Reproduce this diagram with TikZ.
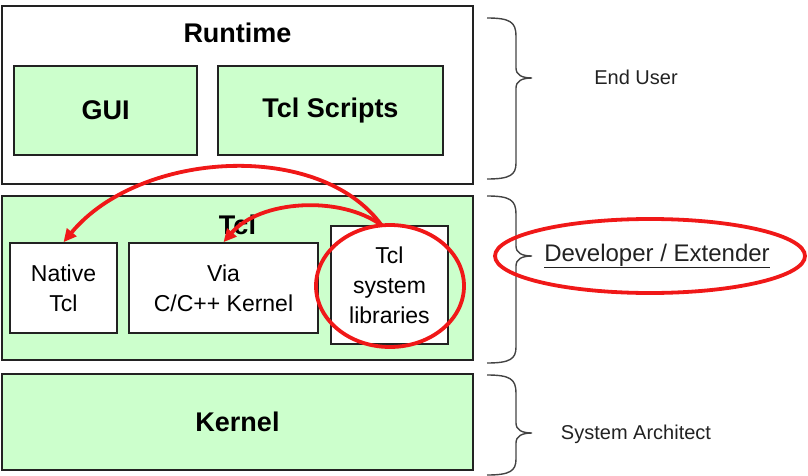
\documentclass[tikz,border=0pt]{standalone}
\usepackage{fontspec}
\setmainfont{Liberation Sans}
\usepackage{xcolor}
\usepackage{tikz}
\usetikzlibrary{arrows.meta,positioning,calc}
\definecolor{mint}{HTML}{CCFFCC}
\definecolor{hot}{HTML}{F01818}
\definecolor{ink}{HTML}{222222}
\newcommand{\fs}[2]{\fontsize{#1}{#2}\selectfont}
% right-hand curly brace: x, top y, tip y, bottom y
\newcommand{\rolebrace}[4]{%
  \draw[brace] (#1,#2) .. controls (#1+23,#2) and (#1+29,#2+4) .. (#1+29,#2+18)
    -- (#1+29,#3-10) .. controls (#1+29,#3-3) and (#1+35,#3) .. (#1+45,#3)
    .. controls (#1+35,#3) and (#1+29,#3+3) .. (#1+29,#3+10)
    -- (#1+29,#4-16) .. controls (#1+29,#4-4) and (#1+23,#4) .. (#1,#4);}

\begin{document}
\begin{tikzpicture}[x=1pt,y=-1pt,
  layer/.style={draw=ink,line width=1.6pt,minimum width=471pt,inner sep=0pt},
  part/.style={draw=ink,line width=1.6pt,fill=mint,inner sep=0pt,font=\bfseries\fs{27}{30}},
  sub/.style={draw=ink,line width=1.6pt,fill=white,inner sep=0pt,align=center,font=\fs{23}{30}},
  ttl/.style={font=\bfseries\fs{27}{30}},
  role/.style={font=\fs{20}{24},text=ink},
  hl/.style={draw=hot,line width=3.8pt},
  pick/.style={hot,line width=3.8pt,-{Triangle[length=13pt,width=12pt]}},
  brace/.style={draw=ink!85,line width=1.4pt}]
  \useasboundingbox (0,0) rectangle (808,476);

  % runtime layer
  \node[layer,fill=white,minimum height=178pt] (runtime) at (237.5,95) {};
  \node[ttl] (rtitle) at (237.5,33) {Runtime};
  \node[part,minimum width=183pt,minimum height=89pt] (gui) at (105.5,110.5) {GUI};
  \node[part,minimum width=225pt,minimum height=89pt] (scripts) at (330.5,110.5) {Tcl Scripts};

  % tcl layer
  \node[layer,fill=mint,minimum height=164pt] (tcl) at (237.5,278) {};
  \node[ttl] (ttitle) at (237.5,225) {Tcl};
  \node[sub,minimum width=107pt,minimum height=90pt] (native) at (63.5,288) {Native\\Tcl};
  \node[sub,minimum width=189pt,minimum height=90pt] (via) at (223.5,288) {Via\\C/C++ Kernel};
  \node[sub,minimum width=117pt,minimum height=118pt] (lib) at (389.5,285) {Tcl\\system\\libraries};

  % kernel layer
  \node[layer,fill=mint,minimum height=96pt,font=\bfseries\fs{27}{30}] (kernel) at (237.5,422) {Kernel};

  % braces and roles
  \rolebrace{487}{18}{78}{179}
  \rolebrace{487}{196}{256}{363}
  \rolebrace{487}{375}{433}{475}
  \node[role] (enduser) at (636,77) {End User};
  \node[role,font=\fs{24}{28}] (dev) at (657,256) {\underline{Developer / Extender}};
  \node[role] (arch) at (636,434) {System Architect};

  % red marks
  \draw[hl] (390,286) ellipse [x radius=74,y radius=61];
  \draw[hl] (650,256) ellipse [x radius=155,y radius=37];
  \draw[pick] ([xshift=-8pt]lib.north) .. controls (320,140) and (140,150) .. (native.north);
  \draw[pick] ([xshift=-8pt]lib.north) .. controls (340,195) and (260,200) .. (via.north);
\end{tikzpicture}
\end{document}
